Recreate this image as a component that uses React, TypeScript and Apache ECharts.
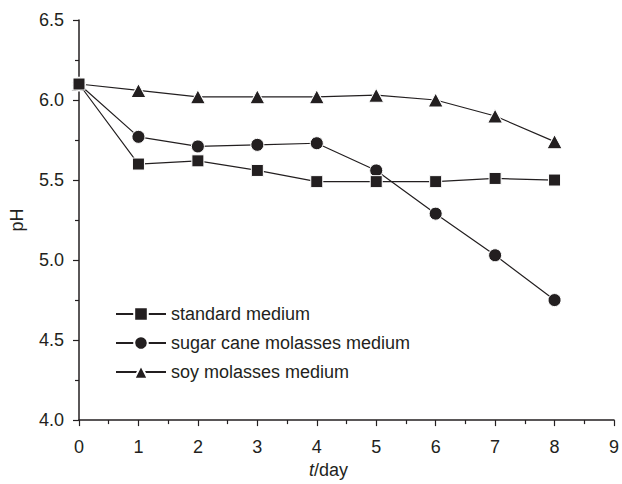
import React, { useEffect, useRef } from "react";
import * as echarts from "echarts";

const days = [0, 1, 2, 3, 4, 5, 6, 7, 8];
const standard = [6.1, 5.6, 5.62, 5.56, 5.49, 5.49, 5.49, 5.51, 5.5];
const sugarCane = [6.1, 5.77, 5.71, 5.72, 5.73, 5.56, 5.29, 5.03, 4.75];
const soy = [6.1, 6.06, 6.02, 6.02, 6.02, 6.03, 6.0, 5.9, 5.74];
const seriesNames = ["standard medium", "sugar cane molasses medium", "soy molasses medium"];
const yTicks = ["4.0", "4.5", "5.0", "5.5", "6.0", "6.5"];

const INK = "#231f20";
const FONT = "Liberation Sans, Arial, sans-serif";
const FS = 18;

export default function App() {
  const ref = useRef<HTMLDivElement>(null);
  useEffect(() => {
    const chart = echarts.init(ref.current!, null, { renderer: "svg" });
    const mk = (name: string, vals: number[], symbol: string, size: number | number[], z: number) => ({
      name,
      type: "line",
      data: days.map((d, i) => [d, vals[i]]),
      symbol,
      symbolSize: size,
      z,
      lineStyle: { color: INK, width: 1.2 },
      itemStyle: { color: INK, borderColor: "#fff", borderWidth: 1 },
      emphasis: { disabled: true },
    });
    chart.setOption({
      animation: false,
      backgroundColor: "#fff",
      textStyle: { fontFamily: FONT },
      grid: { left: 79, right: 6, top: 20, bottom: 63, containLabel: false },
      legend: {
        orient: "vertical",
        left: 115,
        top: 305,
        padding: 0,
        itemWidth: 50,
        itemHeight: 17,
        itemGap: 11,
        data: seriesNames,
        textStyle: { fontFamily: FONT, fontSize: FS, color: INK },
      },
      xAxis: {
        type: "value",
        min: 0,
        max: 9,
        interval: 1,
        name: "{i|t}{n|/day}",
        nameLocation: "middle",
        nameGap: 38,
        nameTextStyle: {
          padding: [0, 36, 0, 0],
          rich: {
            i: { fontStyle: "italic", fontSize: FS, color: INK, fontFamily: FONT },
            n: { fontSize: FS, color: INK, fontFamily: FONT },
          },
        },
        splitLine: { show: false },
        axisLine: { onZero: false, lineStyle: { color: INK, width: 1.5 } },
        axisTick: { show: true, inside: false, length: 6, lineStyle: { color: INK, width: 1.2 } },
        minorTick: { show: true, splitNumber: 2, length: 4, lineStyle: { color: INK, width: 1.2 } },
        axisLabel: { color: INK, fontSize: FS, margin: 18, fontFamily: FONT },
      },
      yAxis: {
        type: "value",
        min: 4.0,
        max: 6.5,
        interval: 0.5,
        name: "pH",
        nameLocation: "middle",
        nameGap: 53,
        nameTextStyle: { fontSize: FS, color: INK, fontFamily: FONT },
        splitLine: { show: false },
        axisLine: { onZero: false, lineStyle: { color: INK, width: 1.5 } },
        axisTick: { show: true, inside: false, length: 6, lineStyle: { color: INK, width: 1.2 } },
        minorTick: { show: true, splitNumber: 2, length: 4, lineStyle: { color: INK, width: 1.2 } },
        axisLabel: {
          color: INK,
          fontSize: FS,
          margin: 15,
          fontFamily: FONT,
          formatter: (v: number) => yTicks.find((t) => Math.abs(parseFloat(t) - v) < 1e-6) ?? v.toFixed(1),
        },
      },
      series: [
        mk(seriesNames[0], standard, "rect", 12, 5),
        mk(seriesNames[1], sugarCane, "circle", 13, 4),
        mk(seriesNames[2], soy, "triangle", [15, 14], 3),
      ],
    });
    return () => chart.dispose();
  }, []);
  return <div ref={ref} style={{ position: "fixed", left: 0, top: 0, width: 622, height: 484 }} />;
}
